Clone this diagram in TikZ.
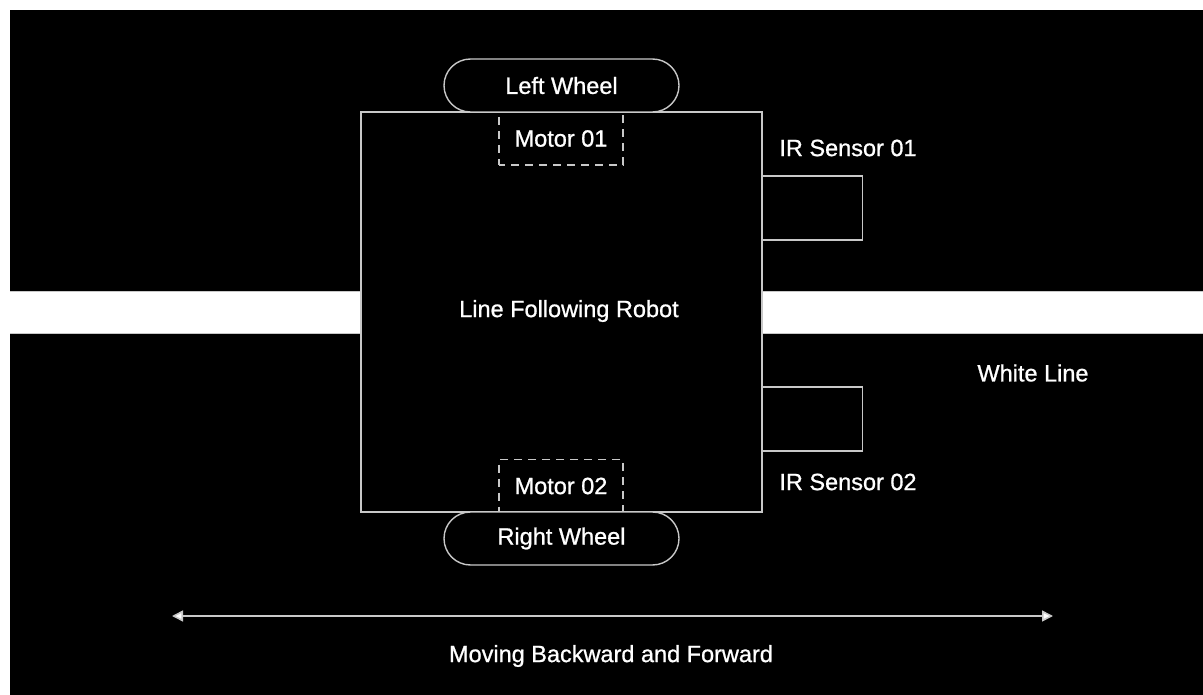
\documentclass[tikz,border=0pt]{standalone}
\usepackage{fontspec}
\setmainfont{Liberation Sans}
\newfontfamily\tagfont{Liberation Sans}[FakeBold=0.9]
\usetikzlibrary{arrows.meta}
\definecolor{edge}{HTML}{C8C8C8}
\tikzset{
  x=1pt, y=-1pt,
  textstyle/.style={text=white, font=\tagfont\fontsize{23.5}{26}\selectfont},
  outline/.style={draw=edge, line width=1.4pt},
  label/.style={textstyle, inner sep=0pt},
  wheelbox/.style={outline, fill=black, rounded corners=26.5pt, minimum width=235pt, minimum height=53pt, inner sep=0pt, textstyle},
  motorbox/.style={draw=edge, line width=1.4pt, dash pattern=on 8pt off 6pt, dash phase=2pt, minimum width=124pt, minimum height=53pt, inner sep=0pt, textstyle},
  sensorbox/.style={outline, fill=black, minimum width=100pt, minimum height=64pt, inner sep=0pt, anchor=west},
}
\begin{document}
\begin{tikzpicture}
  % page and dark field
  \fill[white] (0,0) rectangle (1203,695);
  \useasboundingbox (0,0) rectangle (1203,695);
  \fill[black] (10,10) rectangle (1203,695);

  % the white track line
  \fill[white] (10,291) rectangle (1203,333);
  \draw[edge, line width=0.8pt] (10,291) -- (1203,291) (10,333) -- (1203,333);

  % robot chassis
  \node[outline, fill=black, minimum width=401pt, minimum height=400pt, inner sep=0pt] (robot) at (561.5,312) {};
  \node[label] (robotlabel) at (569,311) {Line Following Robot};

  % IR sensors
  \node[sensorbox] (ir1) at (762,208) {};
  \node[sensorbox] (ir2) at (762,419) {};
  \node[label] (ir1label) at (848,148) {IR Sensor 01};
  \node[label] (ir2label) at (848,482) {IR Sensor 02};

  % motors
  \node[motorbox] (m1) at (561,138.5) {Motor 01};
  \node[motorbox] (m2) at (561,486) {Motor 02};

  % wheels
  \node[wheelbox] (lw) at (561.5,85.5) {Left Wheel};
  \node[wheelbox] (rw) at (561.5,538.5) {Right Wheel};

  % track label
  \node[label] (linelabel) at (1033,373) {White Line};

  % direction of travel
  \coordinate (back) at (172,616);
  \coordinate (fwd) at (1053,616);
  \draw[edge, line width=1.6pt, {Triangle[length=11pt,width=11pt,fill=white]}-{Triangle[length=11pt,width=11pt,fill=white]}] (back) -- (fwd);
  \node[label] (movelabel) at (611,656) {Moving Backward and Forward};
\end{tikzpicture}
\end{document}
